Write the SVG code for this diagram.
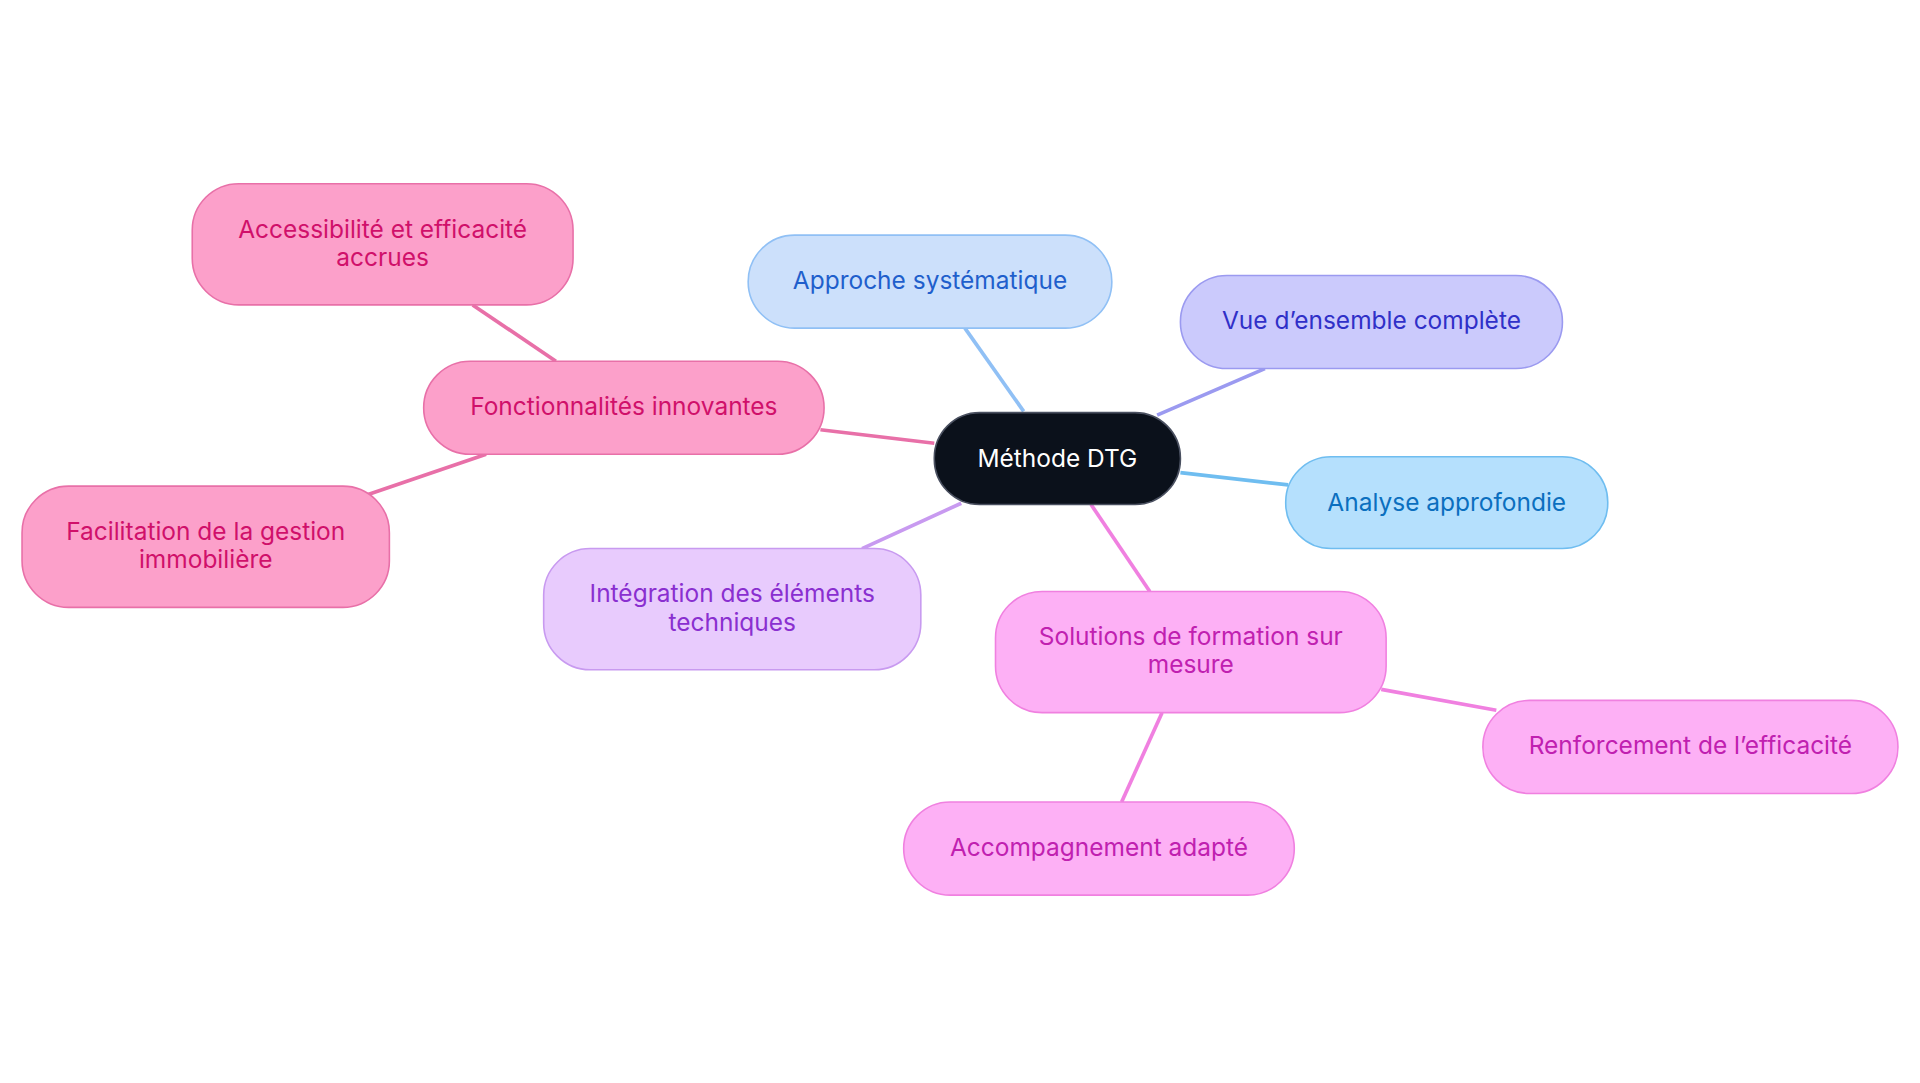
<svg xmlns="http://www.w3.org/2000/svg" width="1920" height="1083" viewBox="0 0 1920 1083">
<style>
text{font-family:Inter,"Noto Sans",sans-serif;font-size:20px;text-anchor:middle}
.e{fill:none;stroke-width:3}
.n{stroke-width:1.3}
</style>
<rect width="1920" height="1083" fill="#fff"/>
<g transform="scale(1.22449)">
<g id="connectors">
<path class="e" stroke="#90c0f5" d="M836 336L788 268"/>
<path class="e" stroke="#9b9af0" d="M945 339L1033 301"/>
<path class="e" stroke="#6fbdf0" d="M964 386L1052 396"/>
<path class="e" stroke="#e870a8" d="M763 362L670 351"/>
<path class="e" stroke="#e870a8" d="M454 295L386 249"/>
<path class="e" stroke="#e870a8" d="M397 371L300 404"/>
<path class="e" stroke="#c89af0" d="M785 411L704 448"/>
<path class="e" stroke="#f080e0" d="M891 412L939 483"/>
<path class="e" stroke="#f080e0" d="M1128 563L1222 580"/>
<path class="e" stroke="#f080e0" d="M949 582L916 655"/>
</g>
<g id="center"><rect class="n" x="763" y="337" width="201" height="75" rx="37" fill="#0b111b" stroke="#4a5060"/><text x="863.5" y="381" fill="#fff">Méthode DTG</text></g>
<g id="approche"><rect class="n" x="611" y="192" width="297" height="76" rx="38" fill="#cce0fb" stroke="#90c0f5"/><text x="759.5" y="236" fill="#1f5fcc">Approche systématique</text></g>
<g id="vue"><rect class="n" x="964" y="225" width="312" height="76" rx="38" fill="#cbcafc" stroke="#9b9af0"/><text x="1120" y="269" fill="#3030c8">Vue d’ensemble complète</text></g>
<g id="analyse"><rect class="n" x="1050" y="373" width="263" height="75" rx="37" fill="#b5e0fd" stroke="#6fbdf0"/><text x="1181.5" y="417" fill="#0b6fbf">Analyse approfondie</text></g>
<g id="fonct"><rect class="n" x="346" y="295" width="327" height="76" rx="38" fill="#fca0ca" stroke="#e870a8"/><text x="509.5" y="339" fill="#d0106a">Fonctionnalités innovantes</text></g>
<g id="access"><rect class="n" x="157" y="150" width="311" height="99" rx="38" fill="#fca0ca" stroke="#e870a8"/><text x="312.5" y="194" fill="#d0106a">Accessibilité et efficacité</text><text x="312.5" y="217" fill="#d0106a">accrues</text></g>
<g id="facil"><rect class="n" x="18" y="397" width="300" height="99" rx="38" fill="#fca0ca" stroke="#e870a8"/><text x="168" y="441" fill="#d0106a">Facilitation de la gestion</text><text x="168" y="464" fill="#d0106a">immobilière</text></g>
<g id="integ"><rect class="n" x="444" y="448" width="308" height="99" rx="38" fill="#e8cbfd" stroke="#c89af0"/><text x="598" y="492" fill="#8a2fd0">Intégration des éléments</text><text x="598" y="515" fill="#8a2fd0">techniques</text></g>
<g id="solutions"><rect class="n" x="813" y="483" width="319" height="99" rx="38" fill="#fdb0f5" stroke="#f080e0"/><text x="972.5" y="527" fill="#c020b0">Solutions de formation sur</text><text x="972.5" y="550" fill="#c020b0">mesure</text></g>
<g id="renf"><rect class="n" x="1211" y="572" width="339" height="76" rx="38" fill="#fdb0f5" stroke="#f080e0"/><text x="1380.5" y="616" fill="#c020b0">Renforcement de l’efficacité</text></g>
<g id="accomp"><rect class="n" x="738" y="655" width="319" height="76" rx="38" fill="#fdb0f5" stroke="#f080e0"/><text x="897.5" y="699" fill="#c020b0">Accompagnement adapté</text></g>
</g>
</svg>
